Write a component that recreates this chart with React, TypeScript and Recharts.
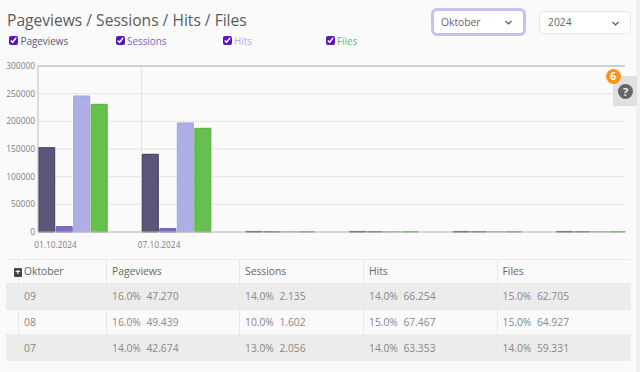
import React from 'react';
import { BarChart, Bar, XAxis, YAxis, CartesianGrid, ReferenceLine } from 'recharts';

const dates = ['01.10.2024', '07.10.2024', '13.10.2024', '19.10.2024', '25.10.2024', '31.10.2024'];
const pageviews = [152300, 140400, 1000, 1000, 1000, 1000];
const sessions = [9600, 6000, 800, 800, 800, 800];
const hits = [245800, 197000, 700, 700, 700, 700];
const files = [230700, 187400, 700, 700, 700, 700];
const shownDates = ['01.10.2024', '07.10.2024'];
const yTicks = [0, 50000, 100000, 150000, 200000, 250000, 300000];

const rowLabels = ['09', '08', '07'];
const pageviewCells = [['16.0%', '47.270'], ['16.0%', '49.439'], ['14.0%', '42.674']];
const sessionCells = [['14.0%', '2.135'], ['10.0%', '1.602'], ['13.0%', '2.056']];
const hitCells = [['14.0%', '66.254'], ['15.0%', '67.467'], ['14.0%', '63.353']];
const fileCells = [['15.0%', '62.705'], ['15.0%', '64.927'], ['14.0%', '59.331']];

const chartData = dates.map((date, i) => ({
  date,
  pageviews: pageviews[i],
  sessions: sessions[i],
  hits: hits[i],
  files: files[i],
}));

const FONT = '"Open Sans", sans-serif';
const GROUP_OFFSET = 17;
const AXIS_OVERHANG = 17.3;

const legendItems = [
  { label: 'Pageviews', color: '#5b5675', box: 9, text: 20.5 },
  { label: 'Sessions', color: '#7a62bd', box: 116, text: 127 },
  { label: 'Hits', color: '#b3b0e4', box: 223, text: 234 },
  { label: 'Files', color: '#6fbb5b', box: 326, text: 337 },
];

const columns = [
  { x: 6, w: 12 },
  { x: 18, w: 88 },
  { x: 106, w: 133 },
  { x: 239, w: 124 },
  { x: 363, w: 133.5 },
  { x: 496.5, w: 134.5 },
];

const rows = [
  { y: 283, h: 26.5, bg: '#ececec' },
  { y: 309.5, h: 24.5, bg: '#fafafa' },
  { y: 334, h: 27, bg: '#ececec' },
];

const Chevron = () => (
  <svg width="9" height="6" viewBox="0 0 9 6" style={{ position: 'absolute', right: 10, top: 9 }}>
    <path d="M1.5 1 L4.5 4 L7.5 1" fill="none" stroke="#555" strokeWidth="1.1" />
  </svg>
);

const XTick = ({ x, y, payload }: any) => (
  <text x={x - GROUP_OFFSET} y={y + 8} textAnchor="middle" fontSize={8.4} fontFamily={FONT} fill="#808080">
    {payload.value}
  </text>
);

const Cell = ({ x, y, w, h, children, color = '#888', bold = false }: any) => (
  <div style={{
    position: 'absolute', left: x, top: y, width: w, height: h, lineHeight: `${h + 1}px`,
    paddingLeft: 5, boxSizing: 'border-box', fontSize: 10.3, color, whiteSpace: 'nowrap',
    fontWeight: bold ? 500 : 400, borderLeft: '1px solid #e8e8e8',
  }}>
    {children}
  </div>
);

const Value = ({ cell }: { cell: string[] }) => (
  <>
    <span style={{ display: 'inline-block', width: 34.4 }}>{cell[0]}</span>
    <span>{cell[1]}</span>
  </>
);

export default function App() {
  const bodyColumns = [pageviewCells, sessionCells, hitCells, fileCells];
  const headers = ['Pageviews', 'Sessions', 'Hits', 'Files'];

  return (
    <div style={{ position: 'absolute', left: 0, top: 0, width: 640, height: 372, background: '#fafafa', overflow: 'hidden', fontFamily: FONT }}>
      <div style={{ position: 'absolute', left: 7, top: 8, fontSize: 15.6, color: '#5a5a5a', whiteSpace: 'nowrap', lineHeight: '24px' }}>
        Pageviews / Sessions / Hits / Files
      </div>

      {legendItems.map((item) => (
        <React.Fragment key={item.label}>
          <input
            type="checkbox"
            checked
            readOnly
            style={{ position: 'absolute', left: item.box, top: 36, width: 9, height: 9, margin: 0, accentColor: '#5a12c4' }}
          />
          <div style={{ position: 'absolute', left: item.text, top: 33, fontSize: 9.9, lineHeight: '16px', color: item.color }}>
            {item.label}
          </div>
        </React.Fragment>
      ))}

      <div style={{ position: 'absolute', left: 636, top: 0, width: 4, height: 372, background: '#f0f0f0' }} />

      <div style={{
        position: 'absolute', left: 433, top: 10, width: 91, height: 24, boxSizing: 'border-box',
        background: '#fff', border: '1px solid #c9bdf0', borderRadius: 4, boxShadow: '0 0 0 2px #c9c2f1',
        fontSize: 10.3, lineHeight: '22px', paddingLeft: 7, color: '#666',
      }}>
        Oktober
        <Chevron />
      </div>
      <div style={{
        position: 'absolute', left: 539, top: 11, width: 92, height: 23, boxSizing: 'border-box',
        background: '#fff', border: '1px solid #e6e6e6', borderRadius: 4,
        fontSize: 10.3, lineHeight: '21px', paddingLeft: 8, color: '#666',
      }}>
        2024
        <Chevron />
      </div>

      <div style={{ position: 'absolute', left: 0, top: 50 }}>
        <BarChart
          width={640}
          height={210}
          data={chartData}
          margin={{ top: 16, right: 15, bottom: 0, left: 0 }}
          barCategoryGap={AXIS_OVERHANG}
          barGap={1.5}
          barSize={16}
        >
          <CartesianGrid
            stroke="#e4e4e4"
            verticalCoordinatesGenerator={({ offset }: any) => [
              offset.left + (offset.width + 2 * AXIS_OVERHANG) / dates.length,
            ]}
          />
          <XAxis
            dataKey="date"
            height={28}
            ticks={shownDates}
            interval={0}
            padding={{ left: -AXIS_OVERHANG, right: -AXIS_OVERHANG }}
            tick={<XTick />}
            tickLine={false}
            axisLine={{ stroke: '#bdbdbd' }}
          />
          <YAxis
            width={38}
            domain={[0, 300000]}
            ticks={yTicks}
            interval={0}
            tickLine={false}
            tickSize={0}
            tickMargin={3}
            axisLine={{ stroke: '#bdbdbd' }}
            tick={{ fontSize: 8.4, fontFamily: FONT, fill: '#808080' }}
          />
          <YAxis yAxisId="frame" orientation="right" width={0} domain={[0, 300000]} tick={false} tickLine={false} axisLine={{ stroke: '#bdbdbd' }} />
          <ReferenceLine y={300000} stroke="#cfcfcf" strokeWidth={2} />
          <Bar dataKey="pageviews" fill="#5c5778" stroke="#3f3b5c" strokeWidth={1} isAnimationActive={false} />
          <Bar dataKey="sessions" fill="#8469c9" stroke="#6a55ab" strokeWidth={1} isAnimationActive={false} />
          <Bar dataKey="hits" fill="#aeaee6" stroke="#a3a3dd" strokeWidth={1} isAnimationActive={false} />
          <Bar dataKey="files" fill="#66c04e" stroke="#58ae42" strokeWidth={1} isAnimationActive={false} />
        </BarChart>
      </div>

      <div style={{ position: 'absolute', left: 613, top: 76, width: 24, height: 30, background: '#e0e0e0' }} />
      <div style={{
        position: 'absolute', left: 618, top: 84, width: 15, height: 15, borderRadius: '50%', background: '#666',
        color: '#eee', fontSize: 11, fontWeight: 700, textAlign: 'center', lineHeight: '15px',
      }}>?</div>
      <div style={{
        position: 'absolute', left: 605.5, top: 69, width: 15, height: 15, borderRadius: '50%', background: '#f7941d',
        color: '#fff', fontSize: 10, fontWeight: 700, textAlign: 'center', lineHeight: '15px',
      }}>6</div>

      <div style={{ position: 'absolute', left: 6, top: 259, width: 625, height: 24, background: '#fafafa', borderTop: '1px solid #ececec', boxSizing: 'border-box' }} />
      {rows.map((row) => (
        <div key={row.y} style={{ position: 'absolute', left: 6, top: row.y, width: 625, height: row.h, background: row.bg }} />
      ))}

      <Cell x={columns[1].x} y={259} w={columns[1].w} h={24} color="#666" bold>Oktober</Cell>
      {headers.map((header, i) => (
        <Cell key={header} x={columns[i + 2].x} y={259} w={columns[i + 2].w} h={24} color="#666" bold>{header}</Cell>
      ))}
      <div style={{
        position: 'absolute', left: 13.5, top: 268, width: 8.5, height: 8.5, borderRadius: 1, background: '#444',
        color: '#fff', fontSize: 9, fontWeight: 700, lineHeight: '8px', textAlign: 'center',
      }}>+</div>

      {rows.map((row, r) => (
        <React.Fragment key={row.y}>
          <Cell x={columns[1].x} y={row.y} w={columns[1].w} h={row.h}>{rowLabels[r]}</Cell>
          {bodyColumns.map((cells, c) => (
            <Cell key={c} x={columns[c + 2].x} y={row.y} w={columns[c + 2].w} h={row.h}>
              <Value cell={cells[r]} />
            </Cell>
          ))}
        </React.Fragment>
      ))}
    </div>
  );
}
